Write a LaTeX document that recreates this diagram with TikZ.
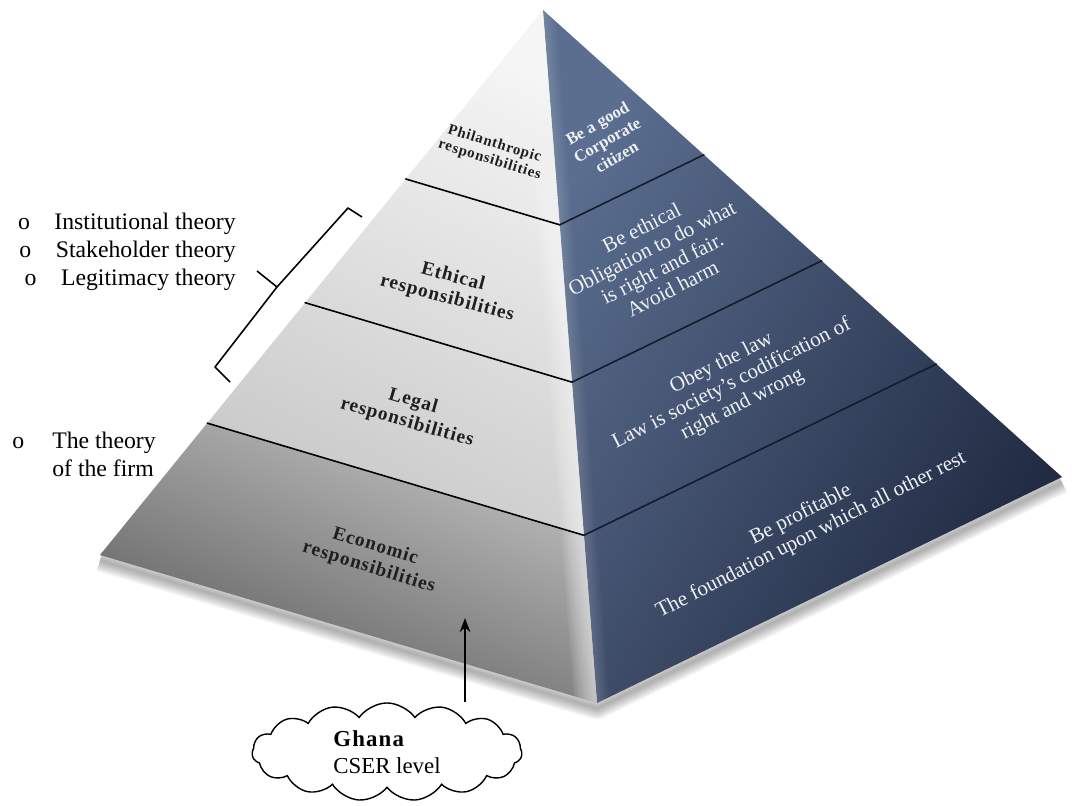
\documentclass[tikz,border=0pt]{standalone}
\usepackage{fontspec}
\setmainfont{Liberation Serif}
\newfontfamily\facefont[LetterSpace=5]{Liberation Serif}
\usetikzlibrary{
  arrows.meta,
  positioning,
  calc,
  shapes.symbols
}

\definecolor{facetop}{HTML}{F5F5F5}
\definecolor{facemid}{HTML}{C9C9C9}
\definecolor{ecotop}{HTML}{C2C2C2}
\definecolor{ecobot}{HTML}{5C5C5C}
\definecolor{bluetop}{HTML}{5B6E90}
\definecolor{bluebot}{HTML}{1F2940}
\definecolor{bluetext}{HTML}{EEF1F6}
\definecolor{blueline}{HTML}{141B2A}

\begin{document}
\begin{tikzpicture}[
  x = 0.02cm, y = -0.02cm,
  % ── Label on the grey face ──────────────────────────────
  facelbl/.style={
    align = center,
    text  = black!88,
    font  = \facefont\bfseries\fontsize{11}{12.5}\selectfont
  },
  % ── Label on the blue face ──────────────────────────────
  desclbl/.style={
    align = center,
    text  = bluetext,
    font  = \fontsize{12}{13}\selectfont
  },
  % ── Level divider ───────────────────────────────────────
  divline/.style={
    line width = 0.9pt,
    line cap   = round
  },
  % ── Theory list ─────────────────────────────────────────
  theory/.style={
    inner sep = 0pt,
    font      = \fontsize{13.5}{16}\selectfont
  },
  % ── Arrow ───────────────────────────────────────────────
  arr/.style={
    -{Stealth[length=8pt, width=6pt]},
    line width = 1.5pt
  },
  % ── Cloud ───────────────────────────────────────────────
  ghcloud/.style={
    cloud,
    cloud puffs     = 15,
    cloud puff arc  = 110,
    aspect          = 2.8,
    draw,
    line width      = 0.8pt,
    fill            = white,
    minimum width   = 5.4cm,
    minimum height  = 1.9cm,
    align           = left,
    font            = \fontsize{13}{15}\selectfont
  }
]
\useasboundingbox (0,0) rectangle (1074,805);

% ── Pyramid corners ────────────────────────────────────────
\coordinate (apex) at (543,10);
\coordinate (lft)  at (100,555);
\coordinate (frt)  at (597,703);
\coordinate (rgt)  at (1062,477);

\foreach \t [count=\i] in {0.31, 0.537, 0.758} {
  \coordinate (l\i) at ($(apex)!\t!(lft)$);
  \coordinate (m\i) at ($(apex)!\t!(frt)$);
  \coordinate (r\i) at ($(apex)!\t!(rgt)$);
}

% ── Soft shadow under the base ─────────────────────────────
\foreach \w in {1,...,8}
  \draw[black, opacity=0.045, line width=\w*1.6pt, line join=round]
    ([yshift=-3pt]lft) -- ([yshift=-3pt]frt) -- ([yshift=-3pt]rgt);

% ── Faces ──────────────────────────────────────────────────
\shade[top color=facetop, bottom color=facemid, shading angle=-25]
  (apex) -- (l3) -- (m3) -- cycle;
\shade[top color=ecotop, bottom color=ecobot, shading angle=-22]
  (l3) -- (lft) -- (frt) -- (m3) -- cycle;
\shade[top color=bluetop, bottom color=bluebot, shading angle=60]
  (apex) -- (frt) -- (rgt) -- cycle;

% light catching the ridge
\begin{scope}
  \clip (apex) -- (lft) -- (frt) -- cycle;
  \foreach \w in {2,4,...,26}
    \draw[white, opacity=0.06, line width=\w pt] (apex) -- (frt);
\end{scope}
\begin{scope}
  \clip (apex) -- (frt) -- (rgt) -- cycle;
  \foreach \w in {2,4,...,14}
    \draw[white, opacity=0.025, line width=\w pt] (apex) -- (frt);
\end{scope}

% ── Level dividers ─────────────────────────────────────────
\foreach \i in {1,2,3} {
  \draw[divline, black]     (l\i) -- (m\i);
  \draw[divline, blueline]  (m\i) -- (r\i);
}

% ── Grey face labels ───────────────────────────────────────
\node[facelbl, rotate=-17, font=\facefont\bfseries\fontsize{8.5}{9.5}\selectfont]
                              (phil) at (492,152) {Philanthropic\\responsibilities};
\node[facelbl, rotate=-15]    (eth)  at (450,288) {Ethical\\responsibilities};
\node[facelbl, rotate=-16]    (leg)  at (410,412) {Legal\\responsibilities};
\node[facelbl, rotate=-17]    (eco)  at (372,557) {Economic\\responsibilities};

% ── Blue face labels ───────────────────────────────────────
\node[desclbl, rotate=30, font=\bfseries\fontsize{9.5}{11}\selectfont]
                              (citz)    at (607,140) {Be a good\\Corporate\\citizen};
\node[desclbl, rotate=27]     (ethdesc) at (657,258) {Be ethical\\Obligation to do what\\is right and fair.\\Avoid harm};
\node[desclbl, rotate=27]     (legdesc) at (732,384) {Obey the law\\Law is society's codification of\\right and wrong};
\node[desclbl, rotate=27]     (ecodesc) at (806,525) {Be profitable\\The foundation upon which all other rest};

% ── Theories ───────────────────────────────────────────────
\node[theory, align=right, anchor=east] (sociotheo) at (236,252)
  {o\hspace{14pt}Institutional theory\\o\hspace{14pt}Stakeholder theory\\o\hspace{14pt}Legitimacy theory};
\node[theory, anchor=north west] (firmtheo) at (12,428)
  {\begin{tabular}{@{}l@{\hspace{16pt}}l@{}}o & The theory\\ & of the firm\end{tabular}};

% ── Bracket over ethical and legal ─────────────────────────
\draw[line width=0.9pt, line join=round]
  (362,217) -- (348,208) -- (277,287) -- (257,271)
  (277,287) -- (215,367) -- (230,382);

% ── Ghana cloud and arrow ──────────────────────────────────
\node[ghcloud] (ghana) at (387,752) {\textbf{\facefont Ghana}\\CSER level};
\coordinate (ghtip) at (465,618);
\draw[arr] (ghana.north -| ghtip) -- (ghtip);

\end{tikzpicture}
\end{document}
